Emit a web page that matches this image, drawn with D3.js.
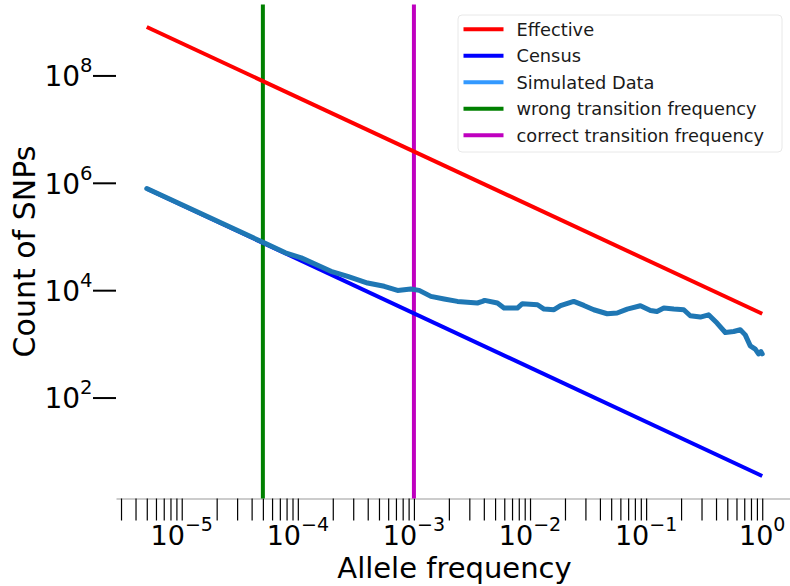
<!DOCTYPE html>
<html>
<head>
<meta charset="utf-8">
<script src="https://cdn.jsdelivr.net/npm/d3@7"></script>
<style>
  body { margin: 0; background: #fff; }
  svg { display: block; font-family: "DejaVu Sans", sans-serif; }
</style>
</head>
<body>
<div id="chart"></div>
<script>
// values
const simFreq = [5e-6, 5.12e-5, 7.82e-5, 1.07e-4, 1.55e-4, 1.93e-4, 2.69e-4, 3.99e-4, 5.55e-4, 7.23e-4,
  9.4e-4, 1.11e-3, 1.40e-3, 1.82e-3, 2.37e-3, 3.52e-3, 3.89e-3, 4.07e-3, 5.24e-3, 5.97e-3,
  7.78e-3, 8.59e-3, 1.16e-2, 1.32e-2, 1.61e-2, 1.83e-2, 2.38e-2, 2.91e-2, 3.54e-2, 4.62e-2,
  5.63e-2, 6.87e-2, 8.93e-2, 0.109, 0.124, 0.142, 0.173, 0.211, 0.240, 0.293,
  0.345, 0.408, 0.481, 0.567, 0.647, 0.714, 0.789, 0.871, 0.929, 0.975, 1.0];
const simCount = [7.8e5, 7.62e4, 4.96e4, 4.0e4, 2.79e4, 2.25e4, 1.81e4, 1.36e4, 1.18e4, 9910,
  1.05e4, 9910, 7660, 6850, 6180, 5770, 6180, 6450, 5770, 4650,
  4650, 5600, 5360, 4450, 4320, 5130, 6180, 5200, 4320, 3640,
  3750, 4450, 5130, 4190, 4010, 4650, 4450, 4320, 3340, 3160,
  3480, 2440, 1630, 1700, 1830, 1470, 918, 796, 650, 718, 650];

const lineFreq = [5e-6, 1];
const effectiveCount = [8.0e8, 3640];
const censusCount = [7.8e5, 3.45];

const wrongFreq = 5e-5;
const correctFreq = 1e-3;

const xMajorTicks = [1e-5, 1e-4, 1e-3, 1e-2, 1e-1, 1];
const xTickExp = ["\u22125", "\u22124", "\u22123", "\u22122", "\u22121", "0"];
const yTicks = [1e2, 1e4, 1e6, 1e8];
const yTickExp = ["2", "4", "6", "8"];

const legendLabels = ["Effective", "Census", "Simulated Data", "wrong transition frequency", "correct transition frequency"];
const legendColors = ["#ff0000", "#0000ff", "#3399ff", "#008000", "#bf00bf"];

const W = 790, H = 586;
const box = {left: 116, right: 793, top: 4.5, bottom: 498.5};

// matplotlib style 5% margins in log space
function padLog(lo, hi) {
  var a = Math.log10(lo), b = Math.log10(hi), p = (b - a) * 0.05;
  return [Math.pow(10, a - p), Math.pow(10, b + p)];
}
var allX = simFreq.concat(lineFreq);
var allY = simCount.concat(effectiveCount, censusCount);

var x = d3.scaleLog().domain(padLog(d3.min(allX), d3.max(allX))).range([box.left, box.right]);
var y = d3.scaleLog().domain(padLog(d3.min(allY), d3.max(allY))).range([box.bottom, box.top]);

var svg = d3.select("#chart").append("svg")
  .attr("width", W).attr("height", H).attr("viewBox", "0 0 " + W + " " + H);

// minor + major ticks on x
var xd = x.domain();
var xAllTicks = [];
for (var e = -6; e <= 0; e++) {
  for (var m = 1; m <= 9; m++) {
    var v = m * Math.pow(10, e);
    if (v >= xd[0] && v <= xd[1]) xAllTicks.push(v);
  }
}

var xAxis = d3.axisBottom(x).tickValues(xAllTicks).tickSize(22).tickSizeOuter(0).tickFormat(function() { return ""; });
var gx = svg.append("g").attr("transform", "translate(0," + box.bottom + ")").call(xAxis);
gx.select(".domain").attr("stroke", "#999").attr("stroke-width", 1);
gx.selectAll(".tick line").attr("stroke", "#000").attr("stroke-width", 1.2);

var yAxis = d3.axisLeft(y).tickValues(yTicks).tickSize(23).tickFormat(function() { return ""; });
var gy = svg.append("g").attr("transform", "translate(" + box.left + ",0)").call(yAxis);
gy.select(".domain").remove();
gy.selectAll(".tick line").attr("stroke", "#000").attr("stroke-width", 2);

// tick labels 10^n
xMajorTicks.forEach(function(t, i) {
  var tx = svg.append("text").attr("x", x(t)).attr("y", 544.5)
    .attr("text-anchor", "middle").attr("font-size", 27).attr("fill", "#000");
  tx.append("tspan").text("10");
  tx.append("tspan").attr("dy", -14).attr("font-size", 19).text(xTickExp[i]);
});
yTicks.forEach(function(t, i) {
  var ty = svg.append("text").attr("x", 92.5).attr("y", y(t) + 10.7)
    .attr("text-anchor", "end").attr("font-size", 28).attr("fill", "#000");
  ty.append("tspan").text("10");
  ty.append("tspan").attr("dy", -14).attr("font-size", 19.6).text(yTickExp[i]);
});

// axis labels
svg.append("text").attr("x", (box.left + box.right) / 2).attr("y", 578)
  .attr("text-anchor", "middle").attr("font-size", 29).text("Allele frequency");
svg.append("text").attr("transform", "translate(35," + ((box.top + box.bottom) / 2) + ")rotate(-90)")
  .attr("text-anchor", "middle").attr("font-size", 30).text("Count of SNPs");

// vertical transition lines
svg.append("line").attr("x1", x(wrongFreq)).attr("x2", x(wrongFreq))
  .attr("y1", box.top).attr("y2", box.bottom).attr("stroke", "#008000").attr("stroke-width", 4);
svg.append("line").attr("x1", x(correctFreq)).attr("x2", x(correctFreq))
  .attr("y1", box.top).attr("y2", box.bottom).attr("stroke", "#bf00bf").attr("stroke-width", 4);

var line = d3.line().x(function(d) { return x(d[0]); }).y(function(d) { return y(d[1]); });

svg.append("path").attr("d", line(d3.zip(lineFreq, effectiveCount)))
  .attr("fill", "none").attr("stroke", "#ff0000").attr("stroke-width", 4);
svg.append("path").attr("d", line(d3.zip(lineFreq, censusCount)))
  .attr("fill", "none").attr("stroke", "#0000ff").attr("stroke-width", 4);
svg.append("path").attr("d", line(d3.zip(simFreq, simCount)))
  .attr("fill", "none").attr("stroke", "#1f77b4").attr("stroke-width", 5)
  .attr("stroke-linejoin", "round").attr("stroke-linecap", "round");

// legend
var lg = svg.append("g");
lg.append("rect").attr("x", 458).attr("y", 15).attr("width", 324).attr("height", 137).attr("rx", 4)
  .attr("fill", "#fff").attr("fill-opacity", 0.8).attr("stroke", "#e8e8e8").attr("stroke-width", 1);
legendLabels.forEach(function(lab, i) {
  var cy = 29.3 + i * 26.5;
  lg.append("line").attr("x1", 463.5).attr("x2", 503.5).attr("y1", cy).attr("y2", cy)
    .attr("stroke", legendColors[i]).attr("stroke-width", 4);
  lg.append("text").attr("x", 516.5).attr("y", cy + 6.3).attr("font-size", 17.8)
    .attr("fill", "#1a1a1a").text(lab);
});
</script>
</body>
</html>
